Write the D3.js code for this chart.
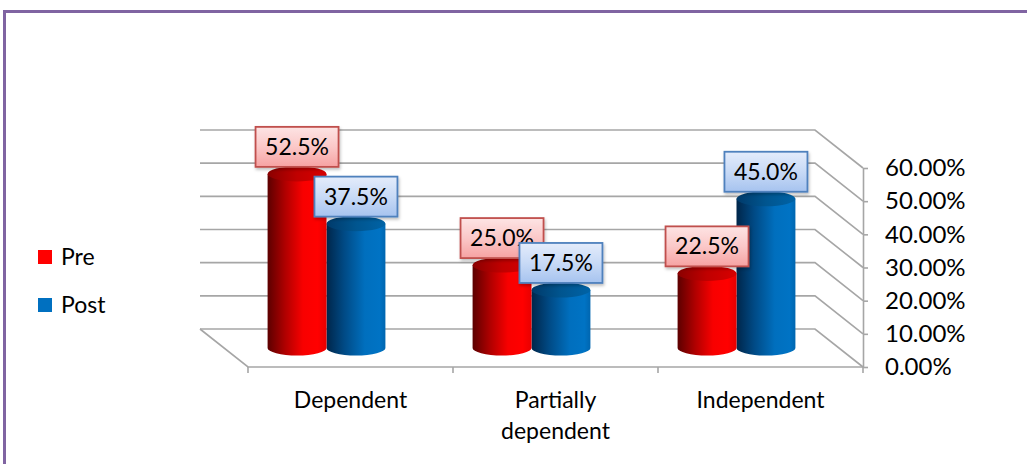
<!DOCTYPE html>
<html>
<head>
<meta charset="utf-8">
<script src="https://cdn.jsdelivr.net/npm/d3@7"></script>
<style>
  html, body { margin: 0; padding: 0; background: #fff; }
  svg { display: block; font-family: Lato, "Open Sans", sans-serif; }
</style>
</head>
<body>
<svg id="chart" width="1027" height="464"></svg>
<script>
// ---- data ----
const categories = ["Dependent", "Partially dependent", "Independent"];
const categoryLines = [["Dependent"], ["Partially", "dependent"], ["Independent"]];
const seriesNames = ["Pre", "Post"];
const preValues = [0.525, 0.25, 0.225];
const postValues = [0.375, 0.175, 0.45];
const yTickValues = [0, 0.1, 0.2, 0.3, 0.4, 0.5, 0.6];

// ---- layout ----
const svg = d3.select("#chart");
const W = 1027, H = 464;
const frontLeft = 248, frontRight = 863;
const depthDX = 48, depthDY = 38;   // oblique offset back -> front
const barDepth = 0.5;               // bars sit at mid depth

const x = d3.scaleBand().domain(categories).range([frontLeft, frontRight]).paddingInner(0).paddingOuter(0);
const xs = d3.scaleBand().domain(seriesNames).range([0, x.bandwidth()]).paddingInner(0).paddingOuter(0.74);
const y = d3.scaleLinear().domain([0, 0.6]).range([367, 168]);

const colors = { Pre: "#ff0000", Post: "#0070c0" };

// ---- gradients ----
const defs = svg.append("defs");
function hGrad(id, stops) {
  const g = defs.append("linearGradient").attr("id", id).attr("x1", 0).attr("x2", 1).attr("y1", 0).attr("y2", 0);
  stops.forEach(s => g.append("stop").attr("offset", s[0]).attr("stop-color", s[1]));
}
function vGrad(id, stops) {
  const g = defs.append("linearGradient").attr("id", id).attr("x1", 0).attr("x2", 0).attr("y1", 0).attr("y2", 1);
  stops.forEach(s => g.append("stop").attr("offset", s[0]).attr("stop-color", s[1]));
}
hGrad("bodyPre", [[0, "#5c0000"], [0.3, "#b00000"], [0.6, "#f80000"], [0.85, "#ff0000"], [1, "#e80000"]]);
hGrad("topPre", [[0, "#8a0000"], [0.5, "#c00000"], [1, "#d80000"]]);
hGrad("bodyPost", [[0, "#00264a"], [0.3, "#004a85"], [0.65, "#006fbe"], [0.9, "#0073c4"], [1, "#0066b0"]]);
hGrad("topPost", [[0, "#003a6a"], [0.5, "#00558f"], [1, "#0063a6"]]);
vGrad("labPre", [[0, "#fde4e4"], [0.5, "#fbc8c8"], [1, "#f6a2a2"]]);
vGrad("labPost", [[0, "#e4ecfb"], [0.5, "#c8daf6"], [1, "#a6c3ef"]]);

const shadow = defs.append("filter").attr("id", "shadow").attr("x", "-20%").attr("y", "-20%").attr("width", "140%").attr("height", "150%");
shadow.append("feDropShadow").attr("dx", 1).attr("dy", 2).attr("stdDeviation", 1.5).attr("flood-color", "#000").attr("flood-opacity", 0.25);

// ---- frame ----
svg.append("line").attr("x1", 3).attr("x2", W).attr("y1", 11.5).attr("y2", 11.5)
  .attr("stroke", "#8064a2").attr("stroke-width", 3);
svg.append("line").attr("x1", 4.5).attr("x2", 4.5).attr("y1", 10).attr("y2", H)
  .attr("stroke", "#8064a2").attr("stroke-width", 3);

// ---- back wall gridlines + side diagonals ----
const gridColor = "#a6a6a6";
const grid = svg.append("g");
grid.selectAll("path.grid").data(yTickValues).join("path")
  .attr("class", "grid")
  .attr("d", t => {
    const yb = y(t) - depthDY;
    return `M${frontLeft - depthDX},${yb} L${frontRight - depthDX},${yb} L${frontRight},${y(t)}`;
  })
  .attr("fill", "none").attr("stroke", gridColor).attr("stroke-width", 1.6);
// floor left edge and front edge
grid.append("path")
  .attr("d", `M${frontLeft - depthDX},${y(0) - depthDY} L${frontLeft},${y(0)} L${frontRight},${y(0)}`)
  .attr("fill", "none").attr("stroke", gridColor).attr("stroke-width", 1.6);
// category boundary ticks
const bounds = [0, 1, 2, 3].map(i => frontLeft + i * x.step());
grid.selectAll("line.ctick").data(bounds).join("line")
  .attr("class", "ctick")
  .attr("x1", d => d).attr("x2", d => d).attr("y1", y(0)).attr("y2", y(0) + 6)
  .attr("stroke", gridColor).attr("stroke-width", 1.6);

// ---- right value axis ----
const yAxis = d3.axisRight(y).tickValues(yTickValues).tickFormat(d3.format(".2%"))
  .tickSizeInner(5).tickSizeOuter(0).tickPadding(17);
const yg = svg.append("g").attr("transform", `translate(${frontRight},0)`).call(yAxis);
yg.select(".domain").attr("stroke", gridColor).attr("stroke-width", 1.6);
yg.selectAll(".tick line").attr("stroke", gridColor).attr("stroke-width", 1.6);
yg.selectAll(".tick text").attr("fill", "#000").style("font-size", "24px").style("font-family", "Lato, sans-serif");

// ---- category labels ----
const xAxis = d3.axisBottom(x).tickSize(0).tickPadding(0).tickFormat("");
const xg = svg.append("g").attr("transform", `translate(0,${y(0)})`).call(xAxis);
xg.select(".domain").remove();
xg.selectAll(".tick").each(function (d, i) {
  const t = d3.select(this).append("text").attr("fill", "#000")
    .attr("text-anchor", "middle").style("font-size", "23px").style("font-family", "Lato, sans-serif");
  categoryLines[i].forEach((line, j) => {
    t.append("tspan").attr("x", 0).attr("y", 41 + j * 31).text(line);
  });
});

// ---- cylinders ----
const ry = 7.5;
const offX = -depthDX * (1 - barDepth), offY = -depthDY * (1 - barDepth);
const bars = [];
categories.forEach((c, i) => {
  bars.push({ cat: c, s: "Pre", v: preValues[i] });
  bars.push({ cat: c, s: "Post", v: postValues[i] });
});
bars.forEach(b => {
  b.w = xs.bandwidth();
  b.cx = x(b.cat) + xs(b.s) + b.w / 2 + offX;
  b.top = y(b.v) + offY;
  b.base = y(0) + offY;
});
// draw Post first so Pre overlaps it
const drawOrder = bars.filter(b => b.s === "Post").concat(bars.filter(b => b.s === "Pre"));
const cyl = svg.append("g").selectAll("g.cyl").data(drawOrder).join("g").attr("class", "cyl");
cyl.append("path")
  .attr("d", b => {
    const rx = b.w / 2;
    return `M${b.cx - rx},${b.top} L${b.cx - rx},${b.base} A${rx},${ry} 0 0 0 ${b.cx + rx},${b.base} L${b.cx + rx},${b.top} Z`;
  })
  .attr("fill", b => `url(#body${b.s})`);
cyl.append("ellipse")
  .attr("cx", b => b.cx).attr("cy", b => b.top).attr("rx", b => b.w / 2).attr("ry", ry)
  .attr("fill", b => `url(#top${b.s})`);

// ---- data labels ----
const fmt = d3.format(".1%");
const labW = 83, labH = 40;
const labOrder = bars.filter(b => b.s === "Pre").concat(bars.filter(b => b.s === "Post"));
const lab = svg.append("g").selectAll("g.lab").data(labOrder).join("g").attr("class", "lab")
  .attr("transform", b => `translate(${b.cx},${b.top - 27})`);
lab.append("rect")
  .attr("x", -labW / 2).attr("y", -labH / 2).attr("width", labW).attr("height", labH)
  .attr("fill", b => `url(#lab${b.s})`)
  .attr("stroke", b => b.s === "Pre" ? "#c0504d" : "#4f81bd").attr("stroke-width", 1.8)
  .attr("filter", "url(#shadow)");
lab.append("text").attr("text-anchor", "middle").attr("dy", "0.35em")
  .style("font-size", "23px").attr("fill", "#000").text(b => fmt(b.v));

// ---- legend ----
const leg = svg.append("g").selectAll("g.leg").data(seriesNames).join("g").attr("class", "leg")
  .attr("transform", (d, i) => `translate(38,${250 + i * 48})`);
leg.append("rect").attr("width", 14).attr("height", 14).attr("fill", d => colors[d]);
leg.append("text").attr("x", 23).attr("y", 15).style("font-size", "23px").attr("fill", "#000").text(d => d);
</script>
</body>
</html>
